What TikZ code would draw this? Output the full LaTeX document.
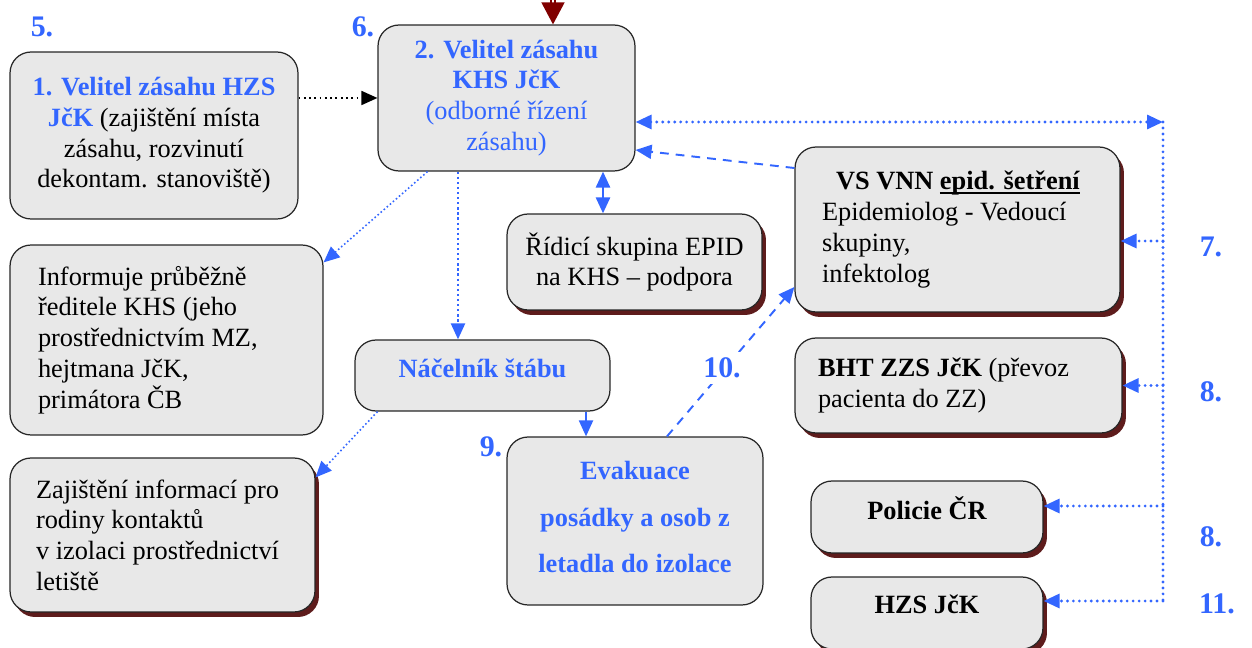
\documentclass[tikz,border=0pt]{standalone}
\usepackage{fontspec}
\setmainfont{Liberation Serif}
\usetikzlibrary{positioning, arrows.meta, calc, shadows}
\definecolor{khsblue}{HTML}{3366FF}
\definecolor{boxgrey}{HTML}{E8E8E8}
\definecolor{shadowred}{HTML}{5E1C1C}
\definecolor{feedred}{HTML}{800000}
% underline that sits just under the baseline
\newcommand\khsuline[1]{{\setbox0\hbox{#1}\rlap{\rule[-2.4pt]{\wd0}{0.9pt}}\box0}}

\tikzset{
  box/.style={draw=black!85, fill=boxgrey, rounded corners=0.42cm, line width=0.7pt,
              font=\fontsize{15}{17.5}\selectfont, align=center, inner sep=0pt},
  redshadow/.style={drop shadow={shadow xshift=0.08cm, shadow yshift=-0.1cm,
              fill=shadowred, opacity=1}},
  num/.style={text=khsblue, font=\fontsize{17}{20}\selectfont\bfseries},
  tip/.style={-{Triangle[length=0.32cm, width=0.28cm]}},
  bluedot/.style={draw=khsblue, line width=1.8pt, line cap=round, dash pattern=on 0pt off 3.4pt},
  finedot/.style={draw=khsblue, line width=0.9pt, dash pattern=on 0.9pt off 1.4pt},
  bluedash/.style={draw=khsblue, line width=1.1pt, dash pattern=on 5pt off 4pt},
}

\begin{document}
\begin{tikzpicture}[x=0.02cm, y=-0.02cm]
  \useasboundingbox (0,0) rectangle (1252,648);

  % left column
  \node[box, minimum width=5.76cm, minimum height=3.34cm] (velhzs) at (154,135.5)
    {\textcolor{khsblue}{\textbf{1. Velitel zásahu HZS}}\\
     \textcolor{khsblue}{\textbf{JčK}} (zajištění místa\\
     zásahu, rozvinutí\\ dekontam. stanoviště)};
  \node[box, align=flush left, inner xsep=0.56cm, text width=5.14cm, minimum height=3.8cm] (inform) at (166.5,340)
    {Informuje průběžně\\ ředitele KHS (jeho\\ prostřednictvím MZ,\\ hejtmana JčK,\\ primátora ČB};
  \node[box, redshadow, align=flush left, inner xsep=0.52cm, text width=5.06cm, minimum height=3.08cm] (rodiny) at (162.5,535)
    {Zajištění informací pro\\ rodiny kontaktů\\ v izolaci prostřednictví\\ letiště};

  % middle
  \node[box, text=khsblue, minimum width=5.14cm, minimum height=2.92cm] (velkhs) at (506.5,98)
    {\textbf{2. Velitel zásahu}\\ \textbf{KHS JčK}\\ (odborné řízení\\ zásahu)};
  \node[box, redshadow, minimum width=5.1cm, minimum height=1.92cm] (ridici) at (634.5,262)
    {Řídicí skupina EPID\\ na KHS -- podpora};
  \node[box, text=khsblue, font=\fontsize{15}{17.5}\selectfont\bfseries, text depth=8pt,
        minimum width=5.1cm, minimum height=1.42cm] (nacelnik) at (482.5,375.5)
    {Náčelník štábu};
  \node[box, text=khsblue, font=\fontsize{15}{17.5}\selectfont\bfseries, text depth=4.5pt,
        minimum width=5.12cm, minimum height=3.36cm] (evakuace) at (635,521)
    {Evakuace\\[9pt] posádky a osob z\\[9pt] letadla do izolace};

  % right column
  \node[box, redshadow, align=flush left, inner xsep=0.54cm, text width=5.42cm, minimum height=3.3cm] (epid) at (957.5,229.5)
    {\hspace*{0.28cm}\textbf{VS VNN \khsuline{epid. šetření}}\\ Epidemiolog - Vedoucí\\ skupiny,\\ infektolog};
  \node[box, redshadow, align=flush left, inner xsep=0.46cm, text width=5.62cm, minimum height=1.9cm] (bht) at (958.5,385.5)
    {\textbf{BHT ZZS JčK} (převoz\\ pacienta do ZZ)};
  \node[box, redshadow, font=\fontsize{15}{17.5}\selectfont\bfseries, text depth=10pt,
        minimum width=4.64cm, minimum height=1.44cm] (policie) at (927,517)
    {Policie ČR};
  \node[box, redshadow, font=\fontsize{15}{17.5}\selectfont\bfseries, text depth=10pt,
        minimum width=4.64cm, minimum height=1.44cm] (hzs) at (927,613)
    {HZS JčK};

  % incoming order
  \coordinate (feed) at (553,0);
  \draw[feedred, line width=0.9pt, double=white, double distance=1.3pt,
        -{Triangle[length=0.44cm, width=0.46cm]}] (feed) -- (feed |- velkhs.north);

  % connectors
  \draw[black, line width=1pt, dash pattern=on 1pt off 2pt, tip] (velhzs.east |- velkhs.west) -- (velkhs.west);
  \draw[finedot, tip] ([xshift=-1.58cm]velkhs.south) -- ([yshift=-0.36cm]inform.north east);
  \coordinate (nc) at ([xshift=-0.49cm]nacelnik.north);
  \draw[khsblue, line width=1.3pt, dash pattern=on 1.3pt off 1.6pt, tip] (nc |- velkhs.south) -- (nc);
  \coordinate (rc) at ([xshift=-0.63cm]ridici.north);
  \draw[khsblue, line width=1.5pt, {Triangle[length=0.32cm, width=0.28cm]}-{Triangle[length=0.32cm, width=0.28cm]}] (rc |- velkhs.south) -- (rc);
  \draw[finedot, tip] ([xshift=-2.1cm]nacelnik.south) -- ([yshift=-0.4cm]rodiny.north east);
  \coordinate (ec) at ([xshift=-0.98cm]evakuace.north);
  \draw[khsblue, line width=1.2pt, tip] (ec |- nacelnik.south) -- (ec);
  \draw[bluedash, tip] ([xshift=0.64cm]evakuace.north) -- ([yshift=-1.15cm]epid.west);
  \draw[bluedash, tip] ([yshift=1.23cm]epid.west) -- ([yshift=-1.04cm]velkhs.east);

  % right distribution line
  \coordinate (rtop) at (1163,122);
  \coordinate (rbot) at (1163,601);
  \coordinate (epidin) at ([yshift=-0.23cm]epid.east);
  \coordinate (polin) at ([yshift=0.22cm]policie.east);
  \draw[bluedot, {Triangle[length=0.32cm, width=0.28cm]}-{Triangle[length=0.32cm, width=0.28cm]}] (velkhs.east |- rtop) -- (rtop);
  \draw[bluedot] (rtop) -- (rbot);
  \draw[bluedot, tip] (rtop |- epidin) -- (epidin);
  \draw[bluedot, tip] (rtop |- bht.east) -- (bht.east);
  \draw[bluedot, tip] (rtop |- polin) -- (polin);
  \draw[bluedot, tip] (rbot) -- (rbot -| hzs.east);

  % step numbers
  \node[num] (n5) at (42,27) {5.};
  \node[num] (n6) at (363,27) {6.};
  \node[num] (n7) at (1211,247) {7.};
  \node[num] (n8a) at (1211,392) {8.};
  \node[num] (n8b) at (1211,537) {8.};
  \node[num] (n11) at (1217,604) {11.};
  \node[num, fill=white] (n10) at (722,368) {10.};
  \node[num] (n9) at (491,447) {9.};
\end{tikzpicture}
\end{document}
